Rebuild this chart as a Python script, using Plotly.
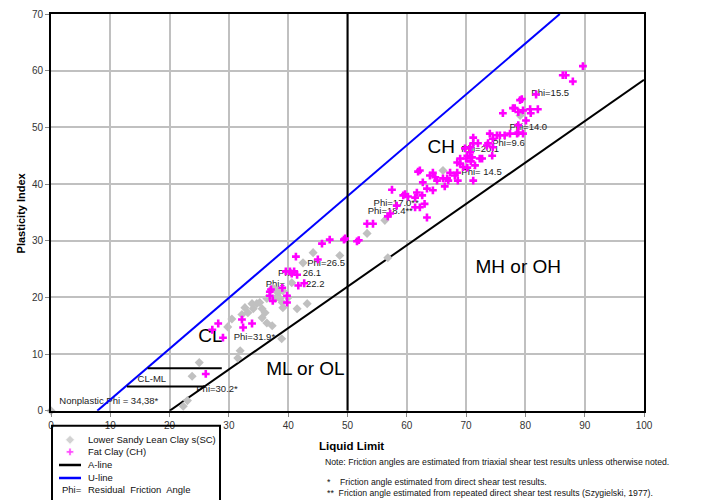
import plotly.graph_objects as go

# ---------------- data ----------------
# Lower Sandy Lean Clay s(SC)  (Liquid Limit, Plasticity Index)
sc_ll = [0, 22.3, 23.0, 23.8, 25.0, 31.5, 31.9, 29.8, 32.7, 33.2, 34.1, 34.7, 35.2,
         35.6, 35.6, 36.1, 36.4, 36.4, 37.3, 37.4, 37.8, 38.3, 38.6, 39.0, 39.1,
         39.1, 40.0, 40.6, 41.5, 43.2, 38.9, 42.5, 44.2, 48.7, 53.3, 56.3, 56.8,
         66.1, 79.1, 33.9, 38.1, 32.2, 30.5]
sc_pi = [0, 0.8, 1.8, 6.1, 8.5, 9.3, 10.6, 14.8, 18.2, 17.3, 18.0, 18.9, 19.1,
         18.0, 16.4, 17.3, 19.8, 15.5, 15.0, 21.7, 19.8, 20.8, 19.8, 19.1, 21.2,
         18.2, 20.0, 22.6, 18.0, 18.9, 12.7, 26.1, 27.9, 27.4, 31.3, 33.6, 27.0,
         42.4, 52.1, 18.9, 21.2, 17.0, 16.2]

# Fat Clay (CH)
ch_ll = [26.1, 27.2, 28.2, 29.0, 32.2, 33.9, 32.4, 36.9, 37.1, 37.4, 39.0, 39.8,
         39.8, 41.7, 39.6, 40.3, 41.0, 41.5, 41.3, 45.0, 45.7, 47.0, 49.4, 49.6,
         51.6, 51.9, 53.3, 54.3, 56.8, 57.2, 58.3, 59.4, 57.5, 59.7, 60.2, 61.7,
         61.4, 61.4, 62.2, 63.4, 62.6, 63.4, 64.4, 62.7, 61.9, 62.2, 64.4, 63.9,
         64.8, 65.1, 66.1, 67.0, 66.8, 67.3, 66.4, 68.1, 68.6, 71.2, 68.5, 68.5,
         69.0, 69.5, 70.0, 70.2, 70.2, 70.7, 70.8, 71.0, 71.5, 69.8, 70.7, 71.2,
         71.2, 72.0, 72.3, 72.7, 73.5, 74.4, 73.7, 74.5, 74.5, 74.0, 75.7, 77.4,
         78.6, 79.6, 75.2, 76.5, 78.8, 78.8, 80.1, 76.2, 77.9, 78.2, 78.8, 79.1,
         79.6, 80.8, 80.9, 82.1, 79.4, 81.8, 86.3, 86.8, 88.0, 89.7, 36.9, 40.6,
         42.7, 63.0, 69.0]
ch_pi = [6.5, 14.3, 15.4, 12.9, 16.1, 15.4, 14.7, 20.3, 21.4, 19.4, 21.7, 20.3,
         19.1, 22.1, 24.6, 24.6, 24.6, 24.0, 27.2, 26.7, 29.5, 30.2, 30.2, 30.4,
         29.9, 30.1, 33.0, 33.0, 34.3, 34.8, 36.2, 38.0, 39.0, 38.2, 37.8, 38.5,
         37.6, 35.9, 35.9, 34.1, 38.0, 39.2, 38.9, 40.3, 42.2, 42.4, 42.0, 41.5,
         41.2, 40.6, 41.0, 40.6, 41.0, 42.0, 39.6, 41.5, 40.6, 40.6, 43.8, 42.0,
         44.5, 43.0, 44.5, 42.9, 45.0, 45.6, 44.0, 44.7, 43.3, 46.3, 46.5, 47.2,
         48.2, 47.2, 44.5, 44.5, 46.8, 45.0, 47.2, 46.5, 48.0, 48.9, 48.6, 48.9,
         48.9, 48.9, 48.6, 48.6, 49.1, 50.4, 51.2, 52.5, 53.4, 53.4, 52.7, 54.8,
         53.0, 53.2, 52.5, 53.2, 55.0, 55.8, 59.2, 59.2, 58.1, 60.8, 21.0, 24.2,
         22.5, 36.5, 43.6]

# Classification lines
a_line_ll = [20, 100]
a_line_pi = [0, 58.4]
u_line_ll = [7.8, 85.8]
u_line_pi = [0, 70]
ll50_ll = [50, 50]
ll50_pi = [0, 70]
clml_upper_ll = [16.3, 28.8]
clml_upper_pi = [7.5, 7.5]
clml_lower_ll = [12.8, 26.0]
clml_lower_pi = [4.3, 4.3]

# Friction angle labels
NB = "\u00a0"
phi_text = ["Phi=15.5", "Phi=14.0", "Phi=9.6", "Phi=20.1", "Phi=" + NB + "14.5",
            "Phi=17.0**", "Phi=18.4**", "Phi=26.5", "Phi=" + NB * 2 + "26.1",
            "Phi=" + NB * 8 + "22.2", "Phi=31.9*", "Phi=30.2*",
            "Nonplastic Phi = 34,38*", "CL-ML"]
phi_ll = [81.0, 77.3, 74.4, 69.2, 69.2, 54.4, 53.4, 43.2, 38.3, 36.2, 30.8, 24.5, 1.4, 14.6]
phi_pi = [56.0, 50.0, 47.2, 46.1, 42.0, 36.6, 35.2, 26.0, 24.2, 22.3, 12.9, 3.7, 1.6, 5.5]

zone_text = ["CL", "CH", "ML or OL", "MH or OH"]
zone_ll = [26.9, 65.8, 42.9, 78.8]
zone_pi = [13.0, 46.3, 7.2, 25.1]

FONT = "Liberation Sans, Arial, sans-serif"

fig = go.Figure()

# labels (beneath marks)
fig.add_trace(go.Scatter(x=phi_ll, y=phi_pi, mode="text", text=phi_text,
                         textposition="middle right",
                         textfont=dict(family=FONT, size=9.5, color="#222222"),
                         hoverinfo="skip", showlegend=False))
fig.add_trace(go.Scatter(x=zone_ll, y=zone_pi, mode="text", text=zone_text,
                         textposition="middle center",
                         textfont=dict(family=FONT, size=19, color="#000000"),
                         hoverinfo="skip", showlegend=False))

# lines
for xs, ys, col, w, nm in [
    (a_line_ll, a_line_pi, "#000000", 2, "A-line"),
    (u_line_ll, u_line_pi, "#0000ff", 2, "U-line"),
    (ll50_ll, ll50_pi, "#000000", 2, "LL=50"),
    (clml_upper_ll, clml_upper_pi, "#000000", 2, "CL-ML"),
    (clml_lower_ll, clml_lower_pi, "#000000", 2, "CL-ML"),
]:
    fig.add_trace(go.Scatter(x=xs, y=ys, mode="lines", line=dict(color=col, width=w),
                             name=nm, showlegend=False, hoverinfo="skip"))

fig.add_trace(go.Scatter(x=sc_ll, y=sc_pi, mode="markers", name="Lower Sandy Lean Clay s(SC)",
                         marker=dict(symbol="diamond", size=7, color="#c0c0c0"),
                         showlegend=False, cliponaxis=False))
fig.add_trace(go.Scatter(x=ch_ll, y=ch_pi, mode="markers", name="Fat Clay (CH)",
                         marker=dict(symbol="cross", size=6.5, color="#ff00ff"),
                         showlegend=False))

# ---------- legend (drawn on helper pixel axes below plot) ----------
fig.add_trace(go.Scatter(x=[70, 70], y=[439, 451], mode="markers", xaxis="x2", yaxis="y2",
                         marker=dict(symbol=["diamond", "cross"], size=[7, 6.5],
                                     color=["#c0c0c0", "#ff00ff"]),
                         showlegend=False, hoverinfo="skip"))

shapes = [
    dict(type="rect", xref="x2", yref="y2", x0=52, x1=220, y0=425, y1=540,
         line=dict(color="black", width=2)),
    dict(type="line", xref="x2", yref="y2", x0=59, x1=81, y0=464, y1=464,
         line=dict(color="black", width=2.5)),
    dict(type="line", xref="x2", yref="y2", x0=59, x1=81, y0=477, y1=477,
         line=dict(color="#0000ff", width=2.5)),
]

ann = []
leg_font = dict(family=FONT, size=9.5, color="#111111")
for txt, yy in [("Lower Sandy Lean Clay s(SC)", 439), ("Fat Clay (CH)", 451),
                ("A-line", 464), ("U-line", 477),
                ("Residual" + NB + " Friction" + NB + " Angle", 489)]:
    ann.append(dict(x=86, y=yy, xref="x2", yref="y2", text=txt, showarrow=False,
                    xanchor="left", yanchor="middle", font=leg_font))
ann.append(dict(x=60, y=489, xref="x2", yref="y2", text="Phi=", showarrow=False,
                xanchor="left", yanchor="middle", font=leg_font))

ann.append(dict(x=351, y=445, xref="x2", yref="y2", text="<b>Liquid Limit</b>",
                showarrow=False, xanchor="center", yanchor="middle",
                font=dict(family=FONT, size=11.5, color="#000000")))
note_font = dict(family=FONT, size=8.7, color="#111111")
ann.append(dict(x=323, y=461, xref="x2", yref="y2",
                text="Note: Friction angles are estimated from triaxial shear test results unless otherwise noted.",
                showarrow=False, xanchor="left", yanchor="middle", font=note_font))
ann.append(dict(x=325, y=481, xref="x2", yref="y2",
                text="*" + NB * 4 + "Friction angle estimated from direct shear test results.",
                showarrow=False, xanchor="left", yanchor="middle", font=note_font))
ann.append(dict(x=325, y=492, xref="x2", yref="y2",
                text="**" + NB * 2 + "Friction angle estimated from repeated direct shear test results (Szygielski, 1977).",
                showarrow=False, xanchor="left", yanchor="middle", font=note_font))
ann.append(dict(x=-0.0506, y=35, xref="paper", yref="y", text="<b>Plasticity Index</b>",
                textangle=-90, showarrow=False, xanchor="center", yanchor="middle",
                font=dict(family=FONT, size=11, color="#000000")))

H = 506
T = 14
fig.update_layout(
    width=720, height=H,
    margin=dict(l=51, r=76, t=T, b=0, pad=0),
    paper_bgcolor="white", plot_bgcolor="white",
    showlegend=False,
    shapes=shapes, annotations=ann,
    xaxis=dict(range=[0, 100], dtick=10, tick0=0, showgrid=True, gridcolor="#c0c0c0",
               gridwidth=2, zeroline=False, showline=True, linecolor="black",
               linewidth=2, mirror=True, ticks="outside", ticklen=4, tickcolor="#888888",
               tickfont=dict(family=FONT, size=10, color="#333333"), anchor="y",
               domain=[0, 1], fixedrange=True),
    yaxis=dict(range=[0, 70], dtick=10, tick0=0, showgrid=True, gridcolor="#c0c0c0",
               gridwidth=2, zeroline=False, showline=True, linecolor="black",
               linewidth=2, mirror=True, ticks="outside", ticklen=4, tickcolor="#888888",
               tickfont=dict(family=FONT, size=10, color="#333333"), anchor="x",
               domain=[0.1852, 1], fixedrange=True),
    xaxis2=dict(range=[51, 644], domain=[0, 1], anchor="y2", visible=False, fixedrange=True),
    yaxis2=dict(range=[500, 410], domain=[0, 0.1852], anchor="x2", visible=False, fixedrange=True),
)

fig.write_html("out.html",
               config={"displayModeBar": False},
               post_script="document.body.style.margin='0px';"
                           "document.documentElement.style.overflow='hidden';")
